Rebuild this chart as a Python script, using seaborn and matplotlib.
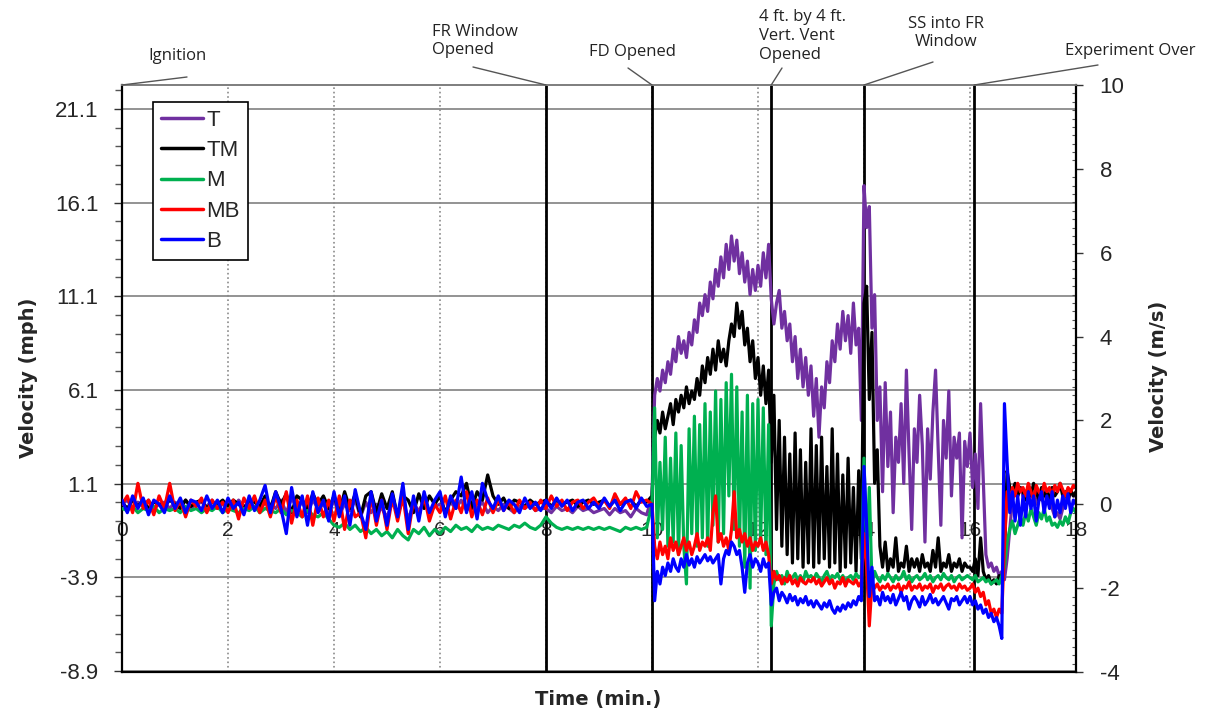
import numpy as np
import pandas as pd
import matplotlib
matplotlib.use("Agg")
import matplotlib.pyplot as plt
from matplotlib.lines import Line2D
from matplotlib.ticker import FixedLocator, MultipleLocator
import seaborn as sns

# probe names / colours
probes = ['T', 'TM', 'M', 'MB', 'B']
colors = ['#7030A0', '#000000', '#00B050', '#FF0000', '#0000FF']

# events (min) and their labels
event_times = [0.0, 8.0, 10.0, 12.25, 14.0, 16.08]
event_labels = ['Ignition', 'FR Window\nOpened', 'FD Opened',
                '4 ft. by 4 ft.\nVert. Vent\nOpened', 'SS into FR\nWindow',
                'Experiment Over']

# velocities in m/s
# quiet part: 0 - 9.9 min every 0.1 min
T_quiet = [0.0, 0.1, -0.1, 0.05, -0.05, 0.1, -0.1, 0.0, 0.05, -0.1,
           0.05, -0.05, 0.1, -0.1, 0.0, 0.05, -0.05, 0.1, -0.1, 0.0,
           0.05, -0.1, 0.1, -0.05, 0.0, 0.1, -0.15, 0.05, 0.0, -0.1,
           0.1, -0.2, 0.15, -0.1, 0.05, -0.2, 0.1, -0.1, 0.0, -0.2,
           0.1, -0.25, 0.0, -0.15, 0.1, -0.3, 0.05, -0.2, 0.0, -0.1,
           -0.3, 0.05, -0.2, 0.1, -0.35, 0.0, -0.15, 0.05, -0.2, -0.05,
           0.0, -0.2, 0.05, -0.1, 0.1, -0.15, 0.0, -0.1, 0.05, -0.2,
           -0.05, -0.15, 0.0, -0.1, -0.2, -0.05, -0.1, 0.0, -0.15, -0.1,
           -0.1, -0.2, -0.05, -0.15, -0.1, -0.2, -0.05, -0.15, -0.1, -0.2,
           -0.15, -0.1, -0.25, -0.1, -0.2, -0.15, -0.3, -0.1, -0.2, -0.25]
TM_quiet = [0.05, -0.1, 0.1, -0.05, 0.1, -0.1, 0.05, 0.0, -0.05, 0.1,
            0.0, -0.1, 0.1, -0.05, 0.05, 0.1, -0.1, 0.05, 0.0, 0.1,
            -0.05, 0.1, 0.0, -0.1, 0.1, 0.05, -0.05, 0.2, -0.1, 0.3,
            0.0, 0.25, -0.2, 0.2, 0.1, -0.1, 0.25, 0.0, 0.2, -0.1,
            0.2, -0.2, 0.3, -0.1, 0.25, -0.3, 0.2, 0.3, -0.2, 0.25,
            -0.1, 0.3, -0.3, 0.2, 0.1, -0.2, 0.25, -0.1, 0.2, 0.0,
            0.2, -0.2, 0.1, 0.3, 0.2, 0.5, -0.1, 0.3, 0.1, 0.7,
            0.2, 0.0, 0.15, -0.1, 0.1, 0.05, -0.05, 0.1, 0.0, 0.05,
            0.1, -0.05, 0.1, 0.0, 0.05, 0.1, -0.05, 0.05, 0.1, 0.0,
            0.05, 0.1, -0.05, 0.1, 0.0, 0.05, 0.1, -0.05, 0.1, 0.05]
M_quiet = [-0.1, -0.15, -0.05, -0.2, -0.1, -0.15, -0.05, -0.2, -0.1, -0.15,
           -0.1, -0.2, -0.05, -0.15, -0.1, -0.2, -0.1, -0.15, -0.05, -0.2,
           -0.1, -0.15, -0.2, -0.1, -0.15, -0.05, -0.2, -0.1, -0.15, -0.2,
           -0.1, -0.25, -0.15, -0.2, -0.3, -0.15, -0.25, -0.3, -0.2, -0.35,
           -0.5, -0.55, -0.45, -0.6, -0.5, -0.65, -0.55, -0.7, -0.6, -0.75,
           -0.65, -0.8, -0.6, -0.75, -0.85, -0.6, -0.7, -0.55, -0.75, -0.6,
           -0.7, -0.55, -0.65, -0.5, -0.6, -0.55, -0.65, -0.5, -0.6, -0.55,
           -0.6, -0.5, -0.55, -0.6, -0.5, -0.55, -0.45, -0.55, -0.6, -0.5,
           -0.3, -0.45, -0.55, -0.6, -0.55, -0.6, -0.55, -0.6, -0.55, -0.6,
           -0.55, -0.6, -0.55, -0.6, -0.65, -0.55, -0.6, -0.55, -0.6, -0.55]
MB_quiet = [0.0, 0.2, -0.2, 0.5, -0.1, 0.1, -0.25, 0.2, -0.1, 0.5,
            -0.15, 0.1, -0.3, 0.1, -0.05, 0.15, -0.2, 0.1, -0.1, 0.05,
            -0.2, 0.1, -0.35, 0.15, -0.1, 0.2, -0.2, 0.1, -0.3, 0.2,
            -0.2, 0.3, -0.45, 0.1, -0.3, 0.2, -0.5, 0.15, -0.3, 0.1,
            -0.4, 0.2, -0.6, 0.1, -0.3, -0.2, -0.8, 0.2, -0.5, 0.1,
            -0.6, 0.15, -0.4, 0.2, -0.7, 0.1, -0.3, 0.2, -0.4, 0.0,
            -0.2, 0.2, -0.35, 0.1, -0.2, 0.3, -0.3, 0.1, -0.25, 0.15,
            -0.2, 0.1, -0.15, 0.05, -0.2, 0.1, -0.1, 0.05, -0.15, 0.1,
            -0.1, 0.2, -0.05, 0.1, -0.15, 0.05, 0.1, -0.1, 0.05, 0.15,
            -0.05, 0.1, -0.1, 0.25, 0.0, 0.15, -0.1, 0.3, 0.05, 0.1]
B_quiet = [0.1, -0.2, 0.2, -0.1, 0.15, -0.25, 0.1, 0.0, -0.2, 0.2,
           -0.1, 0.15, -0.2, 0.1, 0.05, -0.15, 0.2, -0.1, 0.1, -0.2,
           0.15, -0.1, 0.05, -0.25, 0.2, -0.15, 0.1, 0.45, -0.2, 0.3,
           -0.1, -0.7, 0.4, -0.3, 0.2, -0.5, 0.3, -0.2, 0.1, -0.4,
           0.3, -0.3, 0.2, -0.5, 0.35, -0.2, -0.6, 0.3, -0.4, 0.1,
           -0.5, 0.25, -0.3, 0.5, -0.6, 0.2, -0.4, 0.3, -0.2, 0.1,
           0.3, -0.3, 0.2, -0.1, 0.65, -0.2, 0.3, -0.35, 0.5, 0.1,
           -0.1, 0.2, -0.15, 0.1, 0.0, -0.2, 0.15, -0.1, 0.05, -0.15,
           0.1, -0.1, 0.15, -0.05, 0.1, -0.15, 0.05, 0.1, -0.1, 0.05,
           -0.1, 0.15, -0.05, 0.1, -0.15, 0.05, 0.1, -0.1, 0.15, -0.05]

# active part: 10 - 18 min every 0.05 min (one row = one minute)
T_active = [0.2, 2.6, 3.0, 2.7, 3.2, 2.9, 3.4, 3.1, 3.7, 3.4, 4.0, 3.6, 3.9, 3.5, 4.1, 3.8, 4.4, 4.1, 4.8, 4.5,
            5.0, 4.6, 5.3, 4.9, 5.6, 5.2, 5.9, 5.4, 6.2, 5.6, 6.4, 5.8, 6.3, 5.5, 6.0, 5.3, 5.8, 5.0, 5.6, 5.1,
            5.7, 5.2, 6.0, 5.4, 6.2, 4.9, 4.3, 4.8, 5.1, 4.2, 4.6, 3.9, 4.3, 3.4, 4.0, 3.0, 3.7, 2.8, 3.5, 2.6,
            3.3, 2.1, 3.0, 1.6, 2.8, 2.3, 3.4, 2.9, 3.9, 3.4, 4.3, 3.7, 4.6, 3.9, 4.5, 3.6, 4.8, 3.8, 4.2, 2.0,
            7.6, 6.6, 7.1, 4.2, 5.0, 2.0, 2.8, 0.3, 2.9, 0.9, 2.2, -0.2, 1.6, 1.0, 2.4, 0.5, 3.2, 1.2, -0.6, 1.8,
            1.0, 2.6, 1.4, -0.9, 1.8, 0.6, 2.2, 3.2, 1.3, -0.5, 2.0, 1.1, 2.7, 0.2, 1.6, 1.1, 1.7, -0.8, 1.5, 0.9,
            1.7, 0.4, 1.2, -0.1, 2.4, 0.6, -1.2, -1.5, -1.4, -1.6, -1.5, -1.7, -1.6, -1.8, -1.3, -0.6, 0.1, 0.3, 0.2, 0.4,
            0.2, 0.3, 0.1, 0.35, 0.2, 0.0, 0.25, 0.1, 0.3, 0.05, 0.2, -0.1, -0.3, -0.2, -0.35, -0.1, 0.2, 0.1, 0.3, 0.2,
            0.2]
TM_active = [0.2, 1.6, 2.0, 1.7, 2.2, 1.8, 2.1, 2.4, 1.9, 2.5, 2.2, 2.6, 2.3, 2.8, 2.4, 2.7, 2.5, 3.0, 2.6, 3.3,
             2.9, 3.5, 3.1, 3.7, 3.2, 3.9, 3.4, 3.7, 3.3, 3.9, 4.3, 4.0, 4.8, 4.2, 4.6, 3.8, 4.2, 3.4, 3.9, 3.0,
             3.5, 2.6, 3.3, 2.4, 3.2, 1.0, 2.6, -0.6, 2.0, -1.0, 1.6, -1.2, 1.2, -1.4, 1.7, -1.3, 1.3, -1.5, 1.0, -1.4,
             1.8, -1.5, 1.4, -1.4, 1.6, -1.3, 0.9, -1.5, 1.8, -1.4, 1.2, -1.6, 0.7, -1.5, 1.1, -1.4, 0.4, -1.6, 0.8, -1.3,
             4.8, 5.2, 2.5, 4.1, 0.5, 1.3, -1.0, -1.5, -0.9, -1.6, -1.3, -1.5, -0.8, -1.6, -1.4, -1.5, -1.0, -1.6, -1.3, -1.5,
             -1.3, -1.6, -1.2, -1.5, -1.4, -1.6, -1.1, -1.5, -0.8, -1.6, -1.4, -1.5, -1.2, -1.6, -1.4, -1.5, -1.3, -1.6, -1.4, -1.5,
             -1.5, -1.6, -1.3, -1.7, -0.8, -1.6, -1.8, -1.7, -1.9, -1.8, -1.9, -1.7, -1.8, -1.2, 0.8, 0.4, 0.3, 0.5, 0.2, 0.4,
             0.3, 0.1, 0.4, 0.2, 0.5, 0.3, 0.1, 0.4, 0.2, 0.3, 0.1, 0.4, 0.2, 0.3, 0.5, 0.2, 0.3, 0.1, 0.35, 0.2,
             0.3]
M_active = [0.0, 2.3, -0.8, 1.0, -0.6, 1.6, -1.0, 1.1, -0.9, 1.7, -1.2, 1.4, -1.0, -1.9, 1.8, -0.7, 2.1, -1.0, 1.9, -0.8,
            2.4, -1.0, 2.2, -0.5, 2.7, -0.9, 2.5, -0.7, 2.9, 0.2, 3.1, -0.6, 2.8, -1.0, 2.2, -1.5, 2.6, -2.0, 2.4, -1.1,
            2.5, -0.9, 2.3, -1.2, 1.9, -2.9, -1.9, -1.6, -1.8, -1.7, -1.9, -1.6, -1.8, -1.75, -1.65, -1.8, -1.7, -1.85, -1.6, -1.75,
            -1.7, -1.8, -1.65, -1.75, -1.85, -1.7, -1.6, -1.8, -1.7, -1.75, -1.65, -1.8, -1.7, -1.85, -1.75, -1.7, -1.8, -1.65, -1.75, -1.7,
            1.1, -1.2, 0.4, -1.9, -1.6, -1.75, -1.85, -1.7, -1.8, -1.65, -1.75, -1.85, -1.7, -1.8, -1.75, -1.6, -1.8, -1.7, -1.85, -1.75,
            -1.7, -1.8, -1.75, -1.65, -1.8, -1.7, -1.85, -1.75, -1.7, -1.8, -1.65, -1.75, -1.8, -1.7, -1.85, -1.75, -1.7, -1.8, -1.75, -1.7,
            -1.75, -1.8, -1.7, -1.85, -1.8, -1.75, -1.85, -1.8, -1.9, -1.85, -1.8, -1.9, -1.7, -1.5, -0.9, -0.6, -0.4, -0.7, -0.5, -0.3,
            -0.5, -0.2, -0.4, -0.1, -0.3, -0.5, -0.2, -0.35, -0.1, -0.4, -0.3, -0.5, -0.45, -0.55, -0.4, -0.5, -0.3, -0.45, -0.2, -0.1,
            -0.2]
MB_active = [0.0, -1.0, -1.3, -0.9, -1.2, -1.0, -1.3, -0.8, -1.1, -0.9, -1.2, -1.0, -0.8, -1.1, -0.9, -1.2, -1.0, -0.7, -1.1, -0.9,
             -1.0, -0.8, -1.1, -0.2, 0.2, -0.9, -0.7, -1.0, -0.8, -1.1, -0.6, 0.3, -0.8, -0.6, -0.9, -0.7, -1.0, -0.8, -1.1, -0.9,
             -1.0, -0.8, -1.1, -0.9, -1.2, -1.9, -1.6, -1.8, -1.7, -1.9, -1.75, -1.85, -1.7, -1.9, -1.8, -1.95, -1.75, -1.85, -1.9, -1.8,
             -1.85, -1.75, -1.9, -1.8, -1.95, -1.85, -1.75, -1.9, -1.8, -2.0, -1.85, -1.9, -1.75, -1.95, -1.8, -1.85, -1.9, -1.8, -1.95, -1.85,
             -0.7, -1.5, -2.9, -1.9, -2.0, -1.9, -2.05, -1.95, -2.0, -1.9, -2.05, -1.95, -2.0, -1.9, -2.1, -1.95, -2.0, -1.85, -2.05, -1.95,
             -2.0, -1.9, -2.05, -1.95, -2.0, -1.9, -2.1, -1.95, -2.0, -1.9, -2.05, -1.95, -1.9, -2.0, -1.95, -2.05, -1.9, -2.0, -1.95, -2.05,
             -2.0, -1.9, -2.1, -2.0, -2.2, -2.1, -2.4, -2.3, -2.6, -2.5, -2.7, -2.5, -2.6, -1.0, 0.3, 0.0, 0.4, 0.2, 0.5, 0.3,
             0.4, 0.2, 0.5, 0.3, 0.1, 0.45, 0.3, 0.2, 0.5, 0.3, 0.4, 0.2, 0.45, 0.3, 0.5, 0.35, 0.2, 0.4, 0.3, 0.45,
             0.4]
B_active = [0.0, -2.3, -1.6, -1.9, -1.5, -1.7, -1.4, -1.6, -1.3, -1.5, -1.6, -1.3, -1.5, -1.2, -1.45, -1.3, -1.5, -1.25, -1.4, -1.3,
            -1.2, -1.35, -1.25, -1.4, -1.3, -1.2, -1.9, -1.3, -1.1, -1.2, -0.9, -1.0, -1.2, -1.1, -1.5, -2.1, -1.4, -1.2, -1.5, -1.3,
            -1.4, -1.6, -1.3, -1.5, -1.4, -2.4, -2.1, -2.0, -2.3, -2.1, -2.2, -2.35, -2.15, -2.3, -2.2, -2.4, -2.25, -2.35, -2.2, -2.4,
            -2.3, -2.45, -2.3, -2.4, -2.5, -2.35, -2.45, -2.3, -2.5, -2.6, -2.45, -2.55, -2.4, -2.5, -2.35, -2.45, -2.3, -2.4, -2.2, -2.3,
            0.9, -0.5, -2.2, -1.5, -2.3, -2.2, -2.4, -2.1, -2.3, -2.2, -2.35, -2.15, -2.4, -2.25, -2.1, -2.3, -2.2, -2.5, -2.3, -2.2,
            -2.3, -2.45, -2.2, -2.4, -2.3, -2.15, -2.35, -2.25, -2.4, -2.3, -2.2, -2.35, -2.5, -2.25, -2.3, -2.2, -2.4, -2.3, -2.2, -2.35,
            -2.2, -2.4, -2.3, -2.5, -2.4, -2.6, -2.5, -2.7, -2.6, -2.8, -2.7, -2.9, -3.2, 2.4, 1.0, -0.2, 0.3, -0.4, 0.2, -0.5,
            0.2, -0.3, 0.3, -0.1, 0.2, -0.4, 0.1, 0.3, -0.2, 0.2, -0.1, 0.3, -0.3, 0.1, -0.2, 0.2, -0.1, 0.25, -0.2, 0.1,
            0.0]

mph_ticks = [-8.9, -3.9, 1.1, 6.1, 11.1, 16.1, 21.1]
ms_ticks = [-4, -2, 0, 2, 4, 6, 8, 10]
time_ticks = [0, 2, 4, 6, 8, 10, 12, 14, 16, 18]
MS_TO_MPH = 2.237

# sample times
t = np.concatenate([np.arange(100) * 0.1, 10 + np.arange(161) * 0.05])

quiet = [T_quiet, TM_quiet, M_quiet, MB_quiet, B_quiet]
active = [T_active, TM_active, M_active, MB_active, B_active]
df = pd.concat([pd.DataFrame({'time': t, 'vel': q + a, 'probe': p})
                for p, q, a in zip(probes, quiet, active)], ignore_index=True)

sns.set_theme(style='white')
plt.rcParams['font.family'] = ['Liberation Sans', 'DejaVu Sans']
plt.rcParams['axes.unicode_minus'] = False

W, H = 1215, 719
fig = plt.figure(figsize=(W / 100, H / 100), dpi=100)
x0, x1, y0, y1 = 122, 1076, 85, 672
axl = fig.add_axes([x0 / W, 1 - y1 / H, (x1 - x0) / W, (y1 - y0) / H])
ax = axl.twinx()

# left axis (mph) carries grid, events and the time labels
axl.set_xlim(0, 18)
axl.set_ylim(-4 * MS_TO_MPH, 10 * MS_TO_MPH)
axl.set_yticks(mph_ticks)
axl.set_yticklabels([f'{v:.1f}' for v in mph_ticks])
axl.yaxis.set_minor_locator(FixedLocator(np.arange(-8.9, 22.4, 1.0)))
axl.tick_params(axis='y', which='major', direction='out', length=6, width=1,
                pad=11, labelsize=16, left=True, color='#333333')
axl.tick_params(axis='y', which='minor', direction='out', length=5, width=1,
                left=True, color='#555555')
axl.set_xticks(time_ticks)
axl.tick_params(axis='x', length=0, pad=12, labelsize=15)
axl.spines['bottom'].set_position(('data', 0))
axl.spines['bottom'].set_visible(False)
axl.spines['right'].set_visible(False)
axl.spines['left'].set_color('black')
axl.spines['left'].set_linewidth(1.6)
axl.spines['top'].set_color('#808080')
axl.spines['top'].set_linewidth(1.3)
axl.grid(axis='y', color='#8a8a8a', lw=1.3, ls='-')
axl.grid(axis='x', color='#8a8a8a', lw=1.2, ls=':')
for ev in event_times[1:]:
    axl.axvline(ev, color='black', lw=2)

# right axis (m/s) carries the data
sns.lineplot(data=df, x='time', y='vel', hue='probe', hue_order=probes,
             palette=colors, estimator=None, sort=False, lw=2.3, legend=False, ax=ax)
ax.set_xlim(0, 18)
ax.set_ylim(-4, 10)
ax.set_xlabel('')
ax.set_ylabel('')
ax.set_yticks(ms_ticks)
ax.yaxis.set_minor_locator(MultipleLocator(0.2))
ax.tick_params(axis='y', which='major', direction='out', length=5, width=1,
               pad=12, labelsize=16, right=True, color='#333333')
ax.tick_params(axis='y', which='minor', direction='in', length=3, width=0.8,
               right=True, color='#555555')
ax.spines['left'].set_visible(False)
ax.spines['right'].set_color('black')
ax.spines['right'].set_linewidth(1.6)
ax.spines['bottom'].set_color('black')
ax.spines['bottom'].set_linewidth(1.6)
ax.spines['top'].set_color('#808080')
ax.spines['top'].set_linewidth(1.3)

handles = [Line2D([], [], color=c, lw=2.5) for c in colors]
leg = ax.legend(handles, probes, loc='upper left',
                bbox_to_anchor=((153 - x0) / (x1 - x0), (y1 - 102) / (y1 - y0)),
                borderaxespad=0, fontsize=16, handlelength=1.9, handletextpad=0.15,
                labelspacing=0.42, borderpad=0.35, fancybox=False, framealpha=1)
leg.get_frame().set_edgecolor('black')
leg.get_frame().set_linewidth(1.2)

# axis titles
bold = dict(fontweight='bold', fontsize=14, family='DejaVu Sans')
fig.text(29 / W, 1 - 378 / H, 'Velocity (mph)', rotation=90, ha='center', va='center', **bold)
fig.text(1158 / W, 1 - 376 / H, 'Velocity (m/s)', rotation=90, ha='center', va='center', **bold)
fig.text(598 / W, 1 - 700 / H, 'Time (min.)', ha='center', va='center', **bold)

# event annotations: text position, alignment, leader start (pixels from top-left)
note = dict(fontsize=12, family='Open Sans', color='#222222', linespacing=1.22)
ann = [((178, 56), 'center', (187, 77)),
       ((432, 41), 'left', (473, 67)),
       ((632, 52), 'center', (628, 68)),
       ((759, 36), 'left', (782, 68)),
       ((946, 33), 'center', (933, 62)),
       ((1130, 51), 'center', (1098, 65))]
for ev, lab, (pos, ha, lead) in zip(event_times, event_labels, ann):
    fig.text(pos[0] / W, 1 - pos[1] / H, lab, ha=ha, va='center', multialignment=ha, **note)
    ax.annotate('', xy=(ev, 1.0), xycoords=('data', 'axes fraction'),
                xytext=(lead[0], H - lead[1]), textcoords='figure pixels',
                arrowprops=dict(arrowstyle='-', color='#555555', lw=1,
                                shrinkA=0, shrinkB=0),
                annotation_clip=False)

fig.savefig('out.png', dpi=100)
